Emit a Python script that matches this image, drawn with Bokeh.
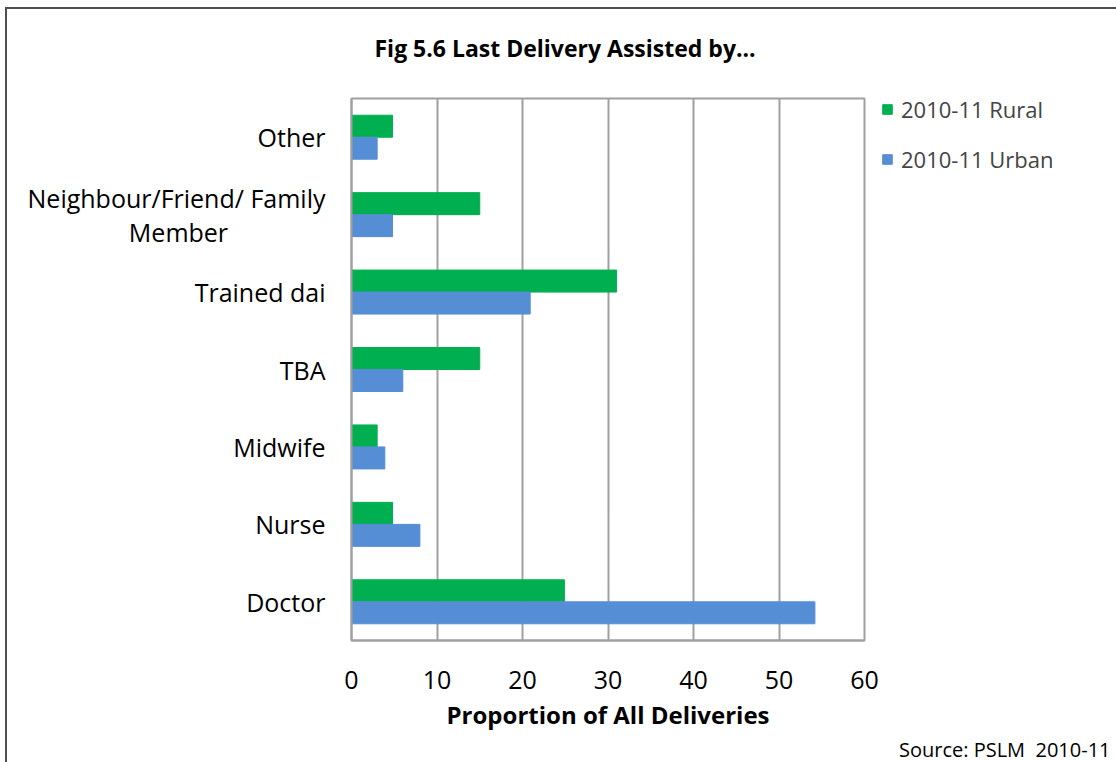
from bokeh.plotting import figure
from bokeh.models import ColumnDataSource, FactorRange, Range1d, Legend, LegendItem, Title
from bokeh.transform import dodge
from bokeh.embed import file_html
from bokeh.resources import INLINE

NB = "\u00a0"
categories = ["Doctor", "Nurse", "Midwife", "TBA", "Trained dai",
              "Neighbour/Friend/ Family\nMember" + NB * 15, "Other"]
rural = [24.9, 4.8, 3.0, 15.0, 31.0, 15.0, 4.8]
urban = [54.2, 8.0, 3.9, 6.0, 20.9, 4.8, 3.0]
x_ticks = [0, 10, 20, 30, 40, 50, 60]

FONT = "Open Sans"
src = ColumnDataSource(dict(cat=categories, rural=rural, urban=urban))

p = figure(frame_width=513, frame_height=542, output_backend="svg", toolbar_location=None,
           y_range=FactorRange(*categories, range_padding=0),
           x_range=Range1d(0, 60),
           min_border_left=344, min_border_right=248, min_border_bottom=100, min_border_top=89)

r1 = p.hbar(y=dodge("cat", 0.142, range=p.y_range), right="rural", height=0.284, left=0,
            source=src, fill_color="#00B050", line_color="#00B050")
r2 = p.hbar(y=dodge("cat", -0.142, range=p.y_range), right="urban", height=0.284, left=0,
            source=src, fill_color="#558ED5", line_color="#558ED5")

p.xaxis.ticker = x_ticks
p.xgrid.ticker = x_ticks
p.xgrid.grid_line_color = "#a0a0a0"
p.xgrid.grid_line_width = 2
p.ygrid.grid_line_color = None
p.outline_line_color = "#a0a0a0"
p.outline_line_width = 2

for ax in (p.xaxis[0], p.yaxis[0]):
    ax.axis_line_color = "#a0a0a0"
    ax.axis_line_width = 2
    ax.major_tick_line_color = None
    ax.minor_tick_line_color = None
    ax.major_label_text_font = FONT
    ax.major_label_text_font_size = "25px"
    ax.major_label_text_color = "#000000"

p.yaxis.major_label_text_line_height = 1.0
p.xaxis.major_label_standoff = 24
p.yaxis.major_label_standoff = 20
p.xaxis.axis_label = "Proportion of All Deliveries"
p.xaxis.axis_label_text_font = FONT
p.xaxis.axis_label_text_font_style = "bold"
p.xaxis.axis_label_text_font_size = "24px"
p.xaxis.axis_label_standoff = 6
p.xaxis.axis_label_text_color = "#000000"

# spacer (innermost) then the real title further out
spacer = Title(text=NB, text_font_size="1px", standoff=32, text_color="#ffffff")
p.add_layout(spacer, "above")
main_title = Title(text="Fig 5.6 Last Delivery Assisted by...", align="left", offset=23,
                   text_font=FONT, text_font_size="23px", text_font_style="bold",
                   text_color="#000000", standoff=0)
p.add_layout(main_title, "above")

src_title = Title(text="Source:" + NB + "PSLM" + NB + NB + "2010-11", align="right", text_font=FONT,
                  text_font_size="20px", text_font_style="normal", text_color="#000000",
                  offset=-246, standoff=0)
p.add_layout(src_title, "below")

legend = Legend(items=[LegendItem(label="2010-11 Rural", renderers=[r1]),
                       LegendItem(label="2010-11 Urban", renderers=[r2])],
                location=(17, 466), border_line_color=None, background_fill_alpha=0,
                label_text_font=FONT, label_text_font_size="22px",
                glyph_width=12, glyph_height=12, spacing=20, padding=0, margin=0,
                label_standoff=8)
p.add_layout(legend, "right")

p.styles = {"border-top": "2px solid #505050", "border-left": "2px solid #505050",
            "margin-left": "5px", "margin-top": "7px"}

open("out.html", "w").write(file_html(p, INLINE))
